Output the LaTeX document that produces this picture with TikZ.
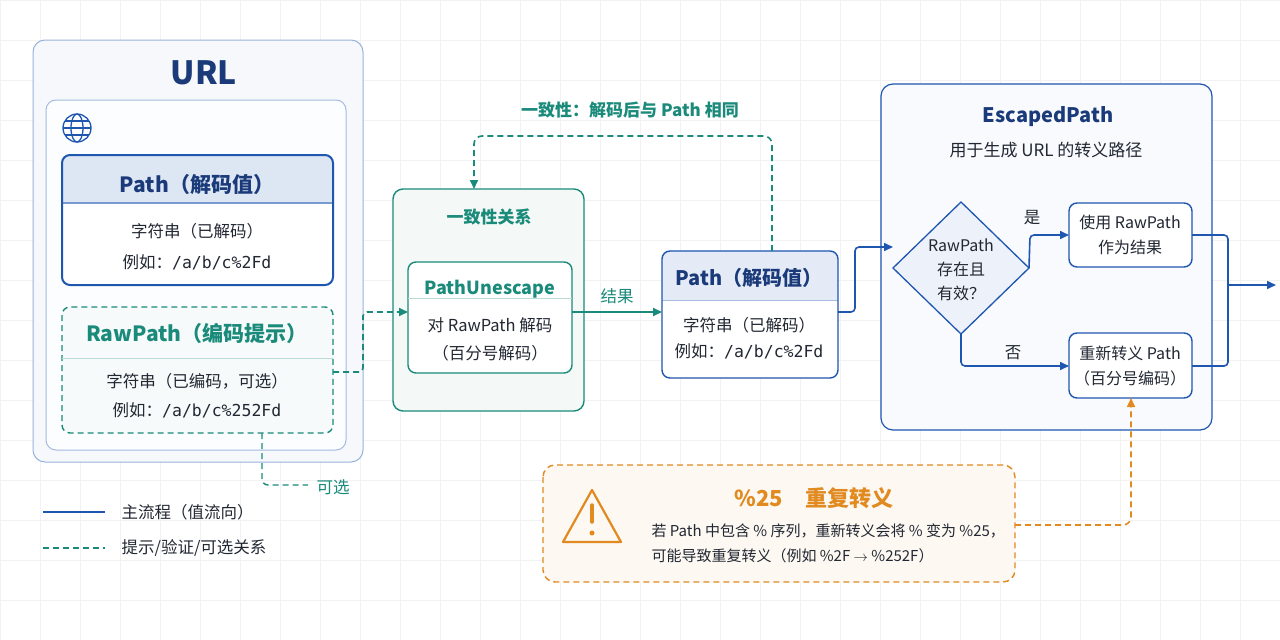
\documentclass[tikz,border=0pt]{standalone}
\usepackage{fontspec}
\setmainfont{Noto Sans CJK SC}
\newfontfamily\mono{DejaVu Sans Mono}
\usetikzlibrary{shapes.geometric,arrows.meta}
\definecolor{navy}{HTML}{1A3A7A}
\definecolor{blu}{HTML}{1F56B0}
\definecolor{teal2}{HTML}{1A8A7A}
\definecolor{orng}{HTML}{E08A20}
\definecolor{txt}{HTML}{222833}
\tikzset{
 box/.style={draw=blu,line width=1.4pt,rounded corners=8pt,fill=white},
 tbox/.style={draw=teal2,line width=1.4pt,dashed,dash pattern=on 6pt off 4pt,rounded corners=8pt,fill=teal2!4},
 flow/.style={blu,line width=1.6pt,-{Triangle[length=9pt,width=8pt]}},
 tflow/.style={teal2,line width=1.6pt,dash pattern=on 6pt off 4pt,-{Triangle[length=9pt,width=8pt]}},
 t/.style={text=txt,font=\fontsize{16.5}{19}\selectfont},
 ttl/.style={font=\fontsize{21}{24}\selectfont\bfseries},
}
\begin{document}
\begin{tikzpicture}[x=1pt,y=-1pt]
\fill[white] (0,0) rectangle (1280,640);
\useasboundingbox (0,0) rectangle (1280,640);
\foreach \i in {0,40,...,1280} \draw[black!5,line width=0.5pt] (\i,0)--(\i,640);
\foreach \i in {0,40,...,640} \draw[black!5,line width=0.5pt] (0,\i)--(1280,\i);
% URL
\draw[blu!45,line width=1pt,rounded corners=12pt,fill=blu!4] (33,40) rectangle (363,462);
\node[text=navy,font=\fontsize{32}{36}\selectfont\bfseries] (url) at (204,73) {URL};
\draw[blu!40,line width=1pt,rounded corners=10pt,fill=white!60!blu!3] (46,100) rectangle (346,450);
\begin{scope}[blu,line width=1.3pt]
\draw (77,128) circle (14);
\draw (77,128) ellipse (6 and 14);
\draw (63,128)--(91,128); \draw (65,121)--(89,121); \draw (65,135)--(89,135);
\end{scope}
% Path in URL
\begin{scope}
\clip[rounded corners=8pt] (62,155) rectangle (333,285);
\fill[white] (62,155) rectangle (333,285);
\fill[blu!15] (62,155) rectangle (333,203);
\end{scope}
\draw[blu!60,line width=1.4pt] (62,203)--(333,203);
\draw[blu,line width=2pt,rounded corners=8pt] (62,155) rectangle (333,285);
\node[ttl,text=navy] (p1) at (197,185) {Path（解码值）};
\node[t] at (197,231) {字符串（已解码）};
\node[t] at (197,262) {例如：{\mono /a/b/c\%2Fd}};
% RawPath
\draw[tbox] (62,307) rectangle (333,433);
\draw[teal2!30,line width=1pt] (62,358)--(333,358);
\node[ttl,text=teal2] (rp) at (197,334) {RawPath（编码提示）};
\node[t] at (197,381) {字符串（已编码，可选）};
\node[t] at (197,410) {例如：{\mono /a/b/c\%252Fd}};
\coordinate (rpr) at (333,372);
\coordinate (rpb) at (262,433);
% consistency
\draw[teal2,line width=1.4pt,rounded corners=10pt,fill=teal2!5] (393,189) rectangle (584,411);
\node[text=teal2,font=\fontsize{17}{20}\selectfont\bfseries] at (489,217) {一致性关系};
\coordinate (ctop) at (474,189);
\draw[teal2,line width=1.4pt,rounded corners=8pt,fill=white] (408,262) rectangle (572,373);
\draw[teal2!30,line width=1pt] (408,298)--(572,298);
\node[text=teal2,font=\fontsize{18}{22}\selectfont\bfseries] (pu) at (490,289) {PathUnescape};
\node[t] at (490,325) {对 RawPath 解码};
\node[t] at (490,353) {（百分号解码）};
\coordinate (pul) at (408,312);
\coordinate (pur) at (572,312);
% Path2
\begin{scope}
\clip[rounded corners=8pt] (662,251) rectangle (838,378);
\fill[white] (662,251) rectangle (838,378);
\fill[blu!12] (662,251) rectangle (838,300);
\end{scope}
\draw[blu!40,line width=1pt] (662,300)--(838,300);
\draw[blu,line width=1.4pt,rounded corners=8pt] (662,251) rectangle (838,378);
\node[text=navy,font=\fontsize{20}{24}\selectfont\bfseries] (p2) at (749,278) {Path（解码值）};
\node[t] at (749,325) {字符串（已解码）};
\node[t] at (749,351) {例如：{\mono /a/b/c\%2Fd}};
\coordinate (p2l) at (662,312);
\coordinate (p2r) at (838,312);
\coordinate (p2t) at (772,251);
% Escaped
\draw[blu,line width=1.2pt,rounded corners=12pt,fill=blu!3] (881,84) rectangle (1212,430);
\node[text=navy,font=\fontsize{20}{24}\selectfont\bfseries] (esc) at (1048,117) {EscapedPath};
\node[t,font=\fontsize{17}{19}\selectfont] at (1046,150) {用于生成 URL 的转义路径};
\draw[blu,line width=1.3pt,fill=blu!8] (961,202)--(1029,268)--(961,334)--(893,268)--cycle;
\node[t,align=center,font=\fontsize{16}{24}\selectfont] (dia) at (961,270) {RawPath\\存在且\\有效？};
\coordinate (dl) at (893,247);
\coordinate (dr) at (1029,268);
\coordinate (db) at (961,334);
\draw[box] (1069,203) rectangle (1192,267);
\node[t,align=center,font=\fontsize{16}{25}\selectfont] (yes) at (1130,235) {使用 RawPath\\作为结果};
\draw[box] (1069,333) rectangle (1192,398);
\node[t,align=center,font=\fontsize{16}{25}\selectfont] (no) at (1130,366) {重新转义 Path\\（百分号编码）};
\coordinate (yl) at (1069,235); \coordinate (yr) at (1192,235);
\coordinate (nl) at (1069,366); \coordinate (nr) at (1192,366);
\coordinate (nb) at (1131,398);
\coordinate (out) at (1276,285);
% warning
\draw[orng,line width=1.4pt,dash pattern=on 6pt off 4pt,rounded corners=12pt,fill=orng!6] (543,465) rectangle (1015,582);
\draw[orng,line width=2.2pt,line join=round] (592,490)--(621,542)--(563,542)--cycle;
\draw[orng,line width=3.5pt,line cap=round] (592,505)--(592,522);
\fill[orng] (592,533) circle (2.5);
\node[text=orng,font=\fontsize{22}{24}\selectfont\bfseries] (wt) at (814,498) {\%25\quad 重复转义};
\node[t,anchor=west,font=\fontsize{15}{17}\selectfont] at (648,531) {若 Path 中包含 \% 序列，重新转义会将 \% 变为 \%25，};
\node[t,anchor=west,font=\fontsize{15}{17}\selectfont] at (648,556) {可能导致重复转义（例如 \%2F $\rightarrow$ \%252F）};
\coordinate (wr) at (1015,525);
% connectors
\draw[tflow,rounded corners=4pt] (rpr) -- (363,372) -- (363,312) -- (pul);
\draw[teal2,line width=2pt,-{Triangle[length=9pt,width=8pt]}] (pur) -- node[above=4pt,t,text=teal2] {结果} (p2l);
\draw[tflow,rounded corners=8pt] (p2t) -- (772,136) -- (474,136) -- (ctop);
\node[text=teal2,font=\fontsize{17}{20}\selectfont\bfseries] (cons) at (630,110) {一致性：解码后与 Path 相同};
\draw[flow,rounded corners=4pt] (p2r) -- (855,312) -- (855,247) -- (dl);
\draw[flow,rounded corners=4pt] (dr) -- (1030,235) -- (yl);
\node[t] at (1032,218) {是};
\draw[flow,rounded corners=4pt] (db) -- (961,366) -- (nl);
\node[t] at (1013,353) {否};
\draw[blu,line width=1.6pt,rounded corners=4pt] (yr) -- (1228,235) -- (1228,366) -- (nr);
\draw[flow] (1228,285) -- (out);
\draw[orng,line width=1.6pt,dash pattern=on 6pt off 4pt,rounded corners=8pt,-{Triangle[length=9pt,width=8pt]}] (wr) -- (1131,525) -- (nb);
\draw[teal2,line width=1.4pt,dash pattern=on 6pt off 4pt,rounded corners=6pt] (rpb) -- (262,485) -- (308,485);
\node[t,text=teal2] (opt) at (333,487) {可选};
% legend
\draw[blu,line width=2pt] (43,512) -- (105,512);
\node[t,anchor=west] at (118,512) {主流程（值流向）};
\draw[teal2,line width=1.6pt,dash pattern=on 6pt off 4pt] (43,548) -- (105,548);
\node[t,anchor=west] at (118,548) {提示/验证/可选关系};
\end{tikzpicture}
\end{document}
